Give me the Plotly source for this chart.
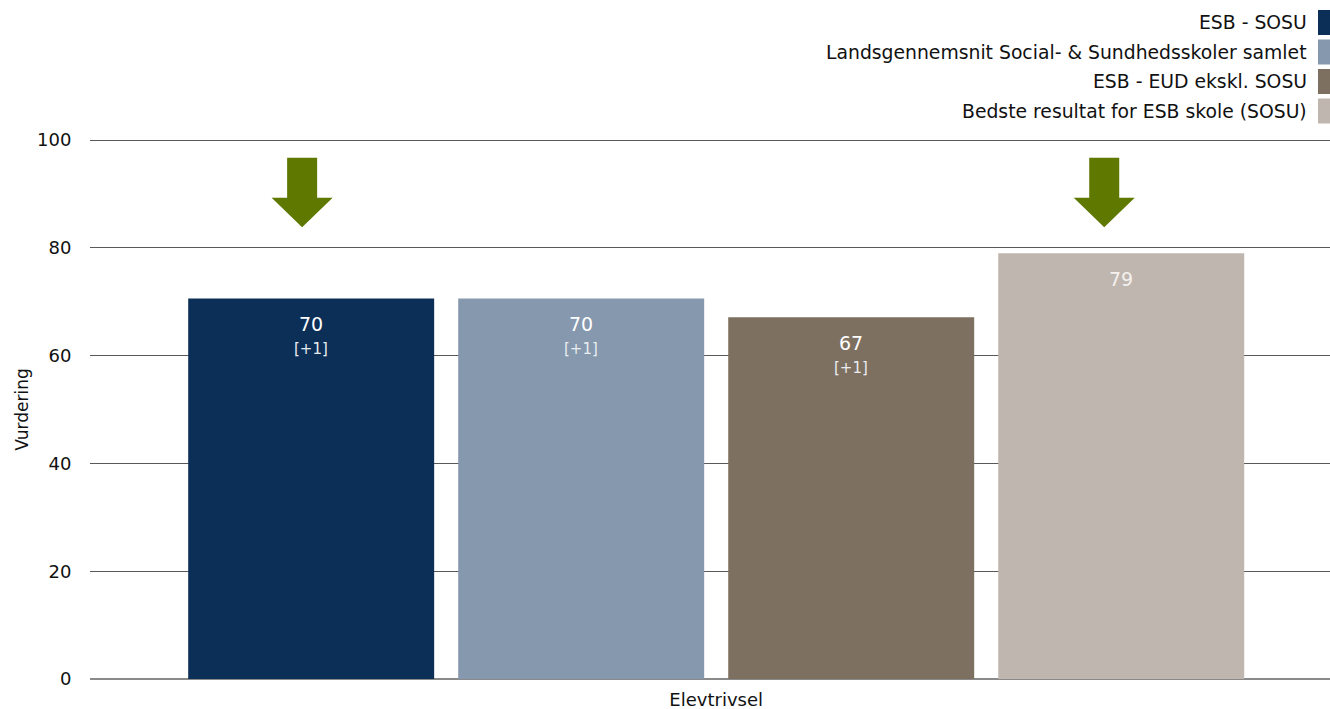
import plotly.graph_objects as go

category = ["Elevtrivsel"]
series_names = [
    "ESB - SOSU",
    "Landsgennemsnit Social- & Sundhedsskoler samlet",
    "ESB - EUD ekskl. SOSU",
    "Bedste resultat for ESB skole (SOSU)",
]
series_values = [70.6, 70.6, 67.1, 79.0]
value_labels = ["70", "70", "67", "79"]
change_labels = ["[+1]", "[+1]", "[+1]", ""]
series_colors = ["#0c2f57", "#8598ad", "#7d7060", "#bfb6af"]
arrow_series = [0, 3]  # bars marked with a green arrow
y_ticks = [0, 20, 40, 60, 80, 100]

FONT = "DejaVu Sans"
BARGAP = 0.129
BARGROUPGAP = 0.089
XR = [-0.505, 0.495]

fig = go.Figure()
for name, val, col in zip(series_names, series_values, series_colors):
    fig.add_trace(go.Bar(x=category, y=[val], name=name, marker_color=col,
                         marker_line_width=0, showlegend=False, hoverinfo="skip"))

n = len(series_names)
slot = (1 - BARGAP) / n
centers = [-(1 - BARGAP) / 2 + (i + 0.5) * slot for i in range(n)]

annotations = []
shapes = []
# top gridline (at range edge), nudged half a pixel to stay crisp
top_y = y_ticks[-1] - 0.5 * 100 / 539
shapes.append(dict(type="line", xref="paper", yref="y", x0=0, x1=1,
                   y0=top_y, y1=top_y, line=dict(color="#595959", width=1),
                   layer="below"))
for i in range(n):
    txtcol = "#ffffff" if i < 3 else "#f4f1ee"
    annotations.append(dict(x=centers[i], y=series_values[i], xref="x", yref="y",
                            text=value_labels[i], showarrow=False, yanchor="top",
                            yshift=-13, font=dict(family=FONT, size=19, color=txtcol)))
    if change_labels[i]:
        annotations.append(dict(x=centers[i], y=series_values[i], xref="x", yref="y",
                                text=change_labels[i], showarrow=False, yanchor="top",
                                yshift=-40, font=dict(family=FONT, size=15, color="#e8ecf0")))

# green arrows above marked bars
arrow_dx = [-0.0073, -0.0137]
for k, i in enumerate(arrow_series):
    cx = centers[i] + arrow_dx[k]
    sw = 15 / 1240
    hw = 30.5 / 1240
    y0, y1, y2 = 96.7, 89.3, 83.8
    path = (f"M {cx - sw} {y0} L {cx + sw} {y0} L {cx + sw} {y1} L {cx + hw} {y1} "
            f"L {cx} {y2} L {cx - hw} {y1} L {cx - sw} {y1} Z")
    shapes.append(dict(type="path", path=path, xref="x", yref="y",
                       fillcolor="#5e7800", line=dict(width=0), layer="above"))

# custom legend: text left, colour swatch right
legend_tops = [10, 39.5, 69, 98.5]
for i in range(n):
    top = legend_tops[i]
    shapes.append(dict(type="rect", xref="paper", yref="paper",
                       x0=(1318 - 90) / 1240, x1=1.0,
                       y0=1 + (140 - top - 25) / 539, y1=1 + (140 - top) / 539,
                       fillcolor=series_colors[i], line=dict(width=0)))
    annotations.append(dict(xref="paper", yref="paper", x=(1309 - 90) / 1240,
                            y=1 + (140 - top - 12.5) / 539, xanchor="right", yanchor="middle",
                            text=series_names[i], showarrow=False,
                            font=dict(family=FONT, size=18.8, color="#111111")))

fig.update_layout(
    width=1330, height=709,
    margin=dict(l=90, r=0, t=140, b=30),
    paper_bgcolor="white", plot_bgcolor="white",
    barmode="group", bargap=BARGAP, bargroupgap=BARGROUPGAP,
    font=dict(family=FONT, size=18, color="#111111"),
    annotations=annotations, shapes=shapes,
    xaxis=dict(range=XR, showgrid=False, zeroline=False, showline=False,
               ticks="outside", ticklen=4, tickcolor="rgba(0,0,0,0)",
               tickfont=dict(size=18)),
    yaxis=dict(range=[0, 100], tickvals=y_ticks,
               showgrid=True, gridcolor="#595959",
               gridwidth=1, zeroline=True, zerolinecolor="#8a8a8a", zerolinewidth=2,
               ticks="outside", ticklen=14, tickcolor="rgba(0,0,0,0)",
               title=dict(text="Vurdering", font=dict(size=17), standoff=4),
               tickfont=dict(size=18)),
)

fig.write_html("out.html", config={"displayModeBar": False})

with open("out.html", "r", encoding="utf-8") as f:
    html = f.read()
html = html.replace("<head>", "<head><style>html,body{margin:0;padding:0;overflow:hidden;}</style>", 1)
with open("out.html", "w", encoding="utf-8") as f:
    f.write(html)
